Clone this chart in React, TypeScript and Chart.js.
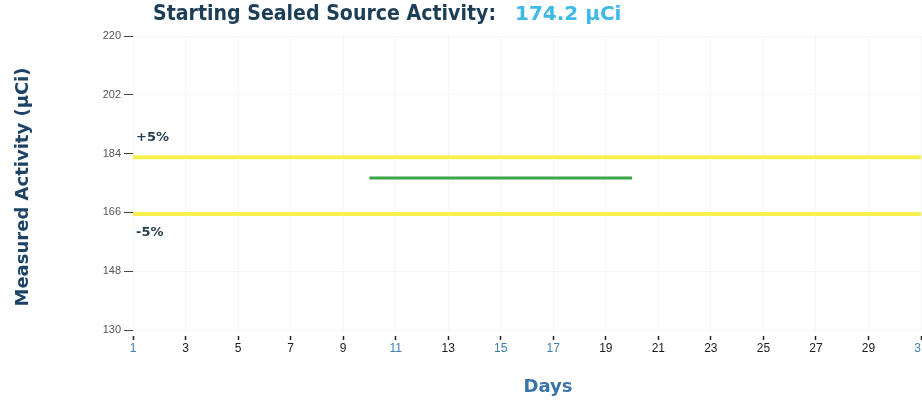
import React, { useEffect, useRef } from "react";
import { Chart, registerables } from "chart.js";

Chart.register(...registerables);

const startingActivity = "174.2 µCi";
const titleLabel = "Starting Sealed Source Activity:";
const yTitle = "Measured Activity (µCi)";
const xTitle = "Days";

const limitDays = [1, 31];
const upperLimit = [182.9, 182.9];
const lowerLimit = [165.5, 165.5];

const measuredDays = [10, 11, 12, 13, 14, 15, 16, 17, 18, 19, 20];
const measuredValues = [176.5, 176.5, 176.5, 176.5, 176.5, 176.5, 176.5, 176.5, 176.5, 176.5, 176.5];

const blueTicks = [1, 11, 15, 17, 31];

const overlayPlugin = {
  id: "overlayText",
  afterDraw(chart: any) {
    const ctx = chart.ctx;
    const area = chart.chartArea;
    ctx.save();
    ctx.textBaseline = "middle";
    ctx.textAlign = "left";
    // main title
    ctx.font = "bold 21px 'DejaVu Sans'";
    ctx.fillStyle = "#1c3f57";
    ctx.fillText(titleLabel, 153, 15, 343);
    ctx.font = "bold 20px 'DejaVu Sans'";
    ctx.fillStyle = "#3db9ea";
    ctx.fillText(startingActivity, 515, 15, 125);
    // +5% / -5%
    ctx.font = "bold 13px 'DejaVu Sans'";
    ctx.fillStyle = "#243f52";
    ctx.fillText("+5%", 136, 138, 39);
    ctx.fillText("-5%", 136, 233, 32);
    // x title
    ctx.textAlign = "center";
    ctx.font = "bold 18px 'DejaVu Sans'";
    ctx.fillStyle = "#3a74a6";
    ctx.fillText(xTitle, 548, 387, 50);
    // y title
    ctx.translate(23, 187);
    ctx.rotate(-Math.PI / 2);
    ctx.font = "bold 18px 'DejaVu Sans'";
    ctx.fillStyle = "#1d4466";
    ctx.fillText(yTitle, 0, 0, 245);
    ctx.restore();
  },
};

export default function App() {
  const ref = useRef<HTMLCanvasElement>(null);
  useEffect(() => {
    if (!ref.current) return;
    const chart = new Chart(ref.current, {
      type: "line",
      data: {
        datasets: [
          {
            label: "+5%",
            data: limitDays.map((d, i) => ({ x: d, y: upperLimit[i] })),
            borderColor: "rgba(247,239,70,0.95)",
            borderWidth: 4,
            pointRadius: 0,
          },
          {
            label: "-5%",
            data: limitDays.map((d, i) => ({ x: d, y: lowerLimit[i] })),
            borderColor: "rgba(247,239,70,0.95)",
            borderWidth: 4,
            pointRadius: 0,
          },
          {
            label: "Measured",
            data: measuredDays.map((d, i) => ({ x: d, y: measuredValues[i] })),
            borderColor: "#3aa648",
            borderWidth: 3,
            pointRadius: 0,
          },
        ],
      },
      options: {
        responsive: false,
        animation: false,
        devicePixelRatio: 1,
        layout: { padding: { top: 36, left: 0, right: 14, bottom: 0 } },
        plugins: { legend: { display: false }, tooltip: { enabled: false }, title: { display: false } },
        scales: {
          x: {
            type: "linear",
            min: 1,
            max: 31,
            border: { display: false },
            grid: {
              color: "rgba(0,0,0,0.035)",
              tickColor: "#222",
              tickWidth: 1.5,
              tickLength: 10,
              tickBorderDash: [0, 6, 4, 20],
            },
            ticks: {
              stepSize: 2,
              padding: 1,
              maxRotation: 0,
              autoSkip: false,
              font: { family: "'Liberation Sans Narrow', 'Liberation Sans'", size: 12 },
              color: (c: any) => (blueTicks.includes(c.tick?.value) ? "#3d7fae" : "#1a1a1a"),
            },
            afterFit: (s: any) => {
              s.height = 70;
            },
          },
          y: {
            min: 130,
            max: 220,
            border: { display: false },
            grid: {
              color: "rgba(0,0,0,0.03)",
              tickColor: "#444",
              tickLength: 9,
            },
            ticks: {
              stepSize: 18,
              padding: 3,
              font: { family: "'Liberation Sans Narrow', 'Liberation Sans'", size: 11 },
              color: "#555",
            },
            afterFit: (s: any) => {
              s.width = 133;
            },
          },
        },
      },
      plugins: [overlayPlugin],
    } as any);
    return () => chart.destroy();
  }, []);
  return (
    <div style={{ position: "fixed", left: 0, top: 0, width: 922, height: 400, overflow: "hidden", background: "#fff" }}>
      <canvas ref={ref} width={935} height={400} style={{ display: "block", width: 935, height: 400 }} />
    </div>
  );
}
